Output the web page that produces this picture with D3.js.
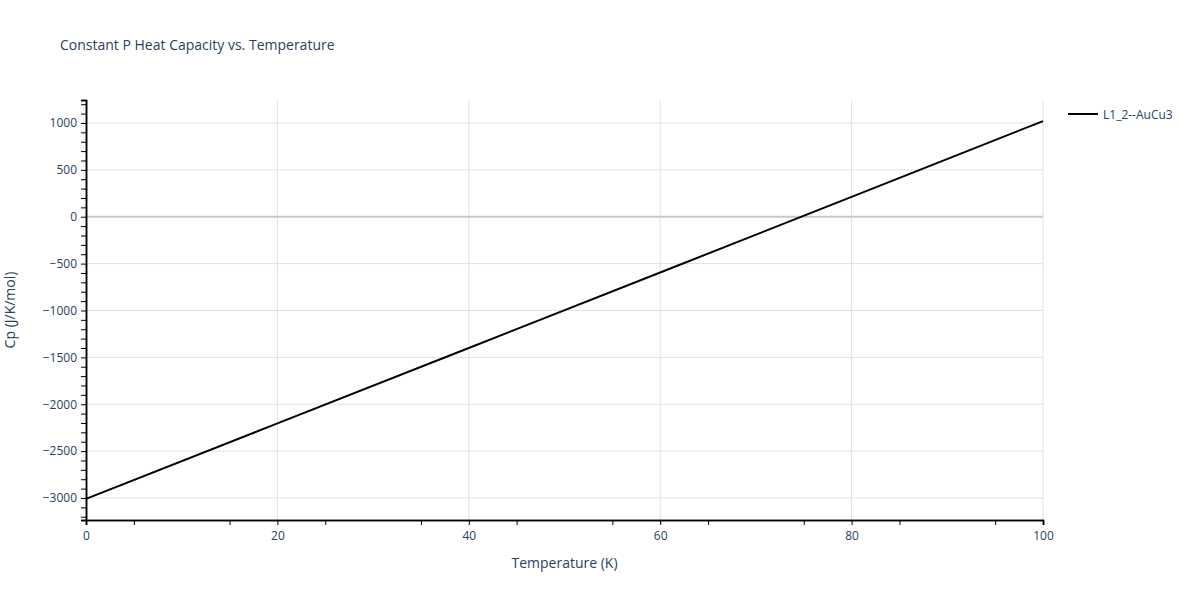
<!DOCTYPE html>
<html>
<head>
<meta charset="utf-8">
<script src="https://cdn.jsdelivr.net/npm/d3@7"></script>
<style>
  body { margin: 0; background: #fff; }
  text { font-family: "Open Sans", sans-serif; fill: #2a3f5f; }
</style>
</head>
<body>
<svg id="chart" width="1200" height="600"></svg>
<script>
// data
var temps = [0, 20, 40, 60, 80, 100];
var cpValues = [-3010, -2205, -1400, -595, 212, 1020];
var seriesName = "L1_2--AuCu3";
var xTicks = [0, 20, 40, 60, 80, 100];
var yTicks = [-3000, -2500, -2000, -1500, -1000, -500, 0, 500, 1000];

(function () {
    var svg = d3.select("#chart");
    var mLeft = 86, mRight = 1043, mTop = 100, mBottom = 520;

    var x = d3.scaleLinear().domain([0, 100]).range([mLeft, mRight]);
    var y = d3.scaleLinear().domain([-3235, 1245]).range([mBottom, mTop]);

    // grid
    svg.append("g").selectAll("line").data(xTicks.slice(1)).enter().append("line")
        .attr("x1", function (d) { return x(d); }).attr("x2", function (d) { return x(d); })
        .attr("y1", mTop).attr("y2", mBottom)
        .attr("stroke", "#e1e1e1").attr("stroke-width", 1);
    svg.append("g").selectAll("line").data(yTicks).enter().append("line")
        .attr("x1", mLeft).attr("x2", mRight)
        .attr("y1", function (d) { return y(d); }).attr("y2", function (d) { return y(d); })
        .attr("stroke", function (d) { return d === 0 ? "#c8c8c8" : "#e1e1e1"; })
        .attr("stroke-width", function (d) { return d === 0 ? 2 : 1; });

    // axes
    var xAxis = d3.axisBottom(x).tickValues(xTicks).tickSize(5).tickPadding(6).tickFormat(d3.format("d"));
    var xMinor = d3.axisBottom(x).tickValues(d3.range(5, 100, 10)).tickSize(5).tickFormat("");
    var yAxis = d3.axisLeft(y).tickValues(yTicks).tickSize(5).tickPadding(4)
        .tickFormat(function (d) { return d < 0 ? "\u2212" + Math.abs(d) : d; });
    var yMinor = d3.axisLeft(y).tickValues(d3.range(-3200, 1300, 100).filter(function (v) { return v % 500 !== 0; }))
        .tickSize(5).tickFormat("");

    function style(g) {
        g.selectAll("path,line").attr("stroke", "#000");
        g.selectAll("text").attr("font-size", 12).style("fill", "#2a3f5f").style("font-family", "Open Sans, sans-serif");
    }
    svg.append("g").attr("transform", "translate(0," + mBottom + ")").call(xMinor).call(style);
    svg.append("g").attr("transform", "translate(0," + mBottom + ")").call(xAxis).call(style);
    svg.append("g").attr("transform", "translate(" + mLeft + ",0)").call(yMinor).call(style);
    svg.append("g").attr("transform", "translate(" + mLeft + ",0)").call(yAxis).call(style);
    svg.selectAll(".domain").attr("stroke-width", 1.5);

    // line
    var line = d3.line().x(function (d, i) { return x(temps[i]); }).y(function (d) { return y(d); });
    svg.append("path").datum(cpValues).attr("d", line)
        .attr("fill", "none").attr("stroke", "#000").attr("stroke-width", 2);

    // titles
    svg.append("text").attr("x", 60).attr("y", 50).attr("font-size", 14).text("Constant P Heat Capacity vs. Temperature");
    svg.append("text").attr("x", (mLeft + mRight) / 2).attr("y", 568).attr("text-anchor", "middle")
        .attr("font-size", 14).text("Temperature (K)");
    svg.append("text").attr("transform", "translate(15," + (mTop + mBottom) / 2 + ") rotate(-90)")
        .attr("text-anchor", "middle").attr("font-size", 14).text("Cp (J/K/mol)");

    // legend
    svg.append("line").attr("x1", 1068).attr("x2", 1098).attr("y1", 114).attr("y2", 114)
        .attr("stroke", "#000").attr("stroke-width", 2);
    svg.append("text").attr("x", 1103).attr("y", 118.5).attr("font-size", 12).text(seriesName);
})();
</script>
</body>
</html>
